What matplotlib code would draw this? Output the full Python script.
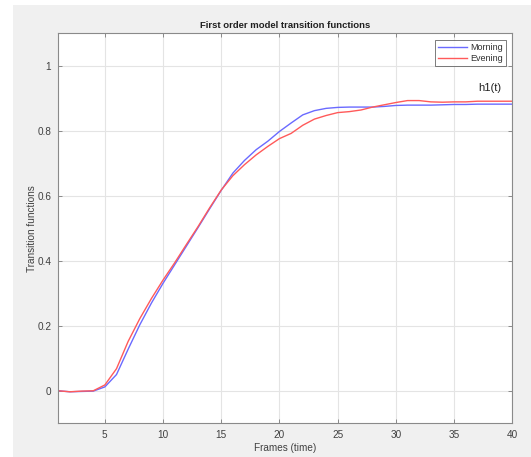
import matplotlib
matplotlib.use("Agg")
import matplotlib.pyplot as plt
from matplotlib.patches import Rectangle

frames = list(range(1, 41))
morning = [0.0, -0.003, -0.002, -0.001, 0.012, 0.050, 0.128, 0.203, 0.270, 0.331,
           0.388, 0.445, 0.502, 0.560, 0.617, 0.670, 0.709, 0.742, 0.768, 0.798,
           0.824, 0.849, 0.862, 0.869, 0.872, 0.873, 0.873, 0.873, 0.875, 0.878,
           0.879, 0.879, 0.879, 0.880, 0.881, 0.881, 0.882, 0.882, 0.882, 0.882]
evening = [0.0, -0.003, -0.001, 0.0, 0.018, 0.068, 0.152, 0.222, 0.284, 0.341,
           0.394, 0.450, 0.505, 0.563, 0.618, 0.662, 0.696, 0.726, 0.752, 0.776,
           0.792, 0.817, 0.836, 0.847, 0.856, 0.859, 0.864, 0.873, 0.880, 0.887,
           0.893, 0.893, 0.889, 0.888, 0.889, 0.889, 0.891, 0.891, 0.891, 0.891]
xticks = [5, 10, 15, 20, 25, 30, 35, 40]
yticks = [0, 0.2, 0.4, 0.6, 0.8, 1.0]
ytick_labels = ["0", "0.2", "0.4", "0.6", "0.8", "1"]

plt.rcParams['font.family'] = ['Liberation Sans', 'DejaVu Sans']

W, H = 531, 457
fig = plt.figure(figsize=(W / 100, H / 100), dpi=100, facecolor='white')
fig.patches.append(Rectangle((13 / W, 0), 1 - 13 / W, 1 - 5 / H, transform=fig.transFigure,
                             facecolor='#f0f0f0', edgecolor='none', zorder=-10))

ax = fig.add_axes([58.3 / W, 1 - 423.3 / H, (512.3 - 58.3) / W, (423.3 - 33.3) / H])
ax.set_facecolor('white')

ax.plot(frames, morning, color='#6a6aff', lw=1.0, label='Morning')
ax.plot(frames, evening, color='#ff5a5a', lw=1.0, label='Evening')

ax.set_xlim(1, 40)
ax.set_ylim(-0.1, 1.1)
ax.set_xticks(xticks)
ax.set_yticks(yticks)
ax.set_yticklabels(ytick_labels)
ax.grid(True, color='#e4e4e4', lw=0.8)
ax.set_axisbelow(True)
for s in ax.spines.values():
    s.set_color('#8a8a8a')
    s.set_linewidth(0.8)
ax.tick_params(direction='in', length=3, width=0.7, color='#8a8a8a',
               labelsize=7.2, labelcolor='#404040', top=True, right=True, pad=5)

ax.set_title('First order model transition functions', fontsize=6.8, fontweight='bold',
             color='#202020', pad=4)
ax.set_xlabel('Frames (time)', fontsize=7.2, color='#404040', labelpad=2)
ax.set_ylabel('Transition functions', fontsize=7.2, color='#404040', labelpad=0)

ax.text(37.05, 0.932, 'h1(t)', fontsize=8, color='#202020', ha='left', va='center')

leg = ax.legend(loc='upper right', fontsize=6.5, frameon=True, fancybox=False,
                borderpad=0.35, labelspacing=0.25, handlelength=3.2, handletextpad=0.3,
                borderaxespad=0.7, markerfirst=True)
leg.get_frame().set_edgecolor('#404040')
leg.get_frame().set_linewidth(0.6)
for t in leg.get_texts():
    t.set_color('#303030')

fig.savefig('out.png', dpi=100)
